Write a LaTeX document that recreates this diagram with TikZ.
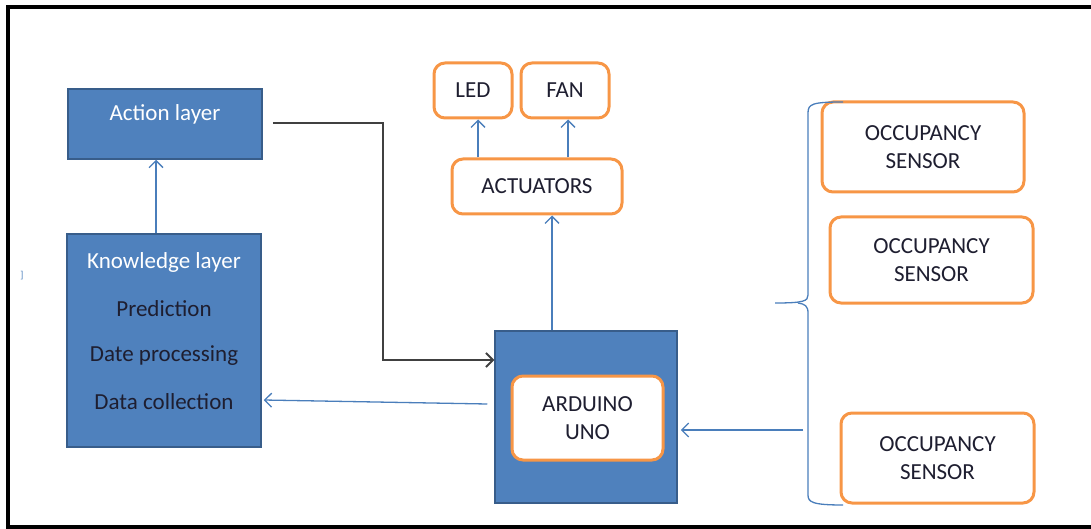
\documentclass[tikz,border=0pt]{standalone}
\usepackage{fontspec}
\setmainfont{Carlito}
\usetikzlibrary{arrows.meta}
\definecolor{boxblue}{HTML}{4F81BD}
\definecolor{boxedge}{HTML}{385D8A}
\definecolor{orng}{HTML}{F79646}
\definecolor{lineblue}{HTML}{4A7EBB}
\definecolor{txtdark}{HTML}{1E1E30}
\definecolor{darkline}{HTML}{404040}
\tikzset{
  bluebox/.style={draw=boxedge, line width=1.5pt, fill=boxblue, minimum width=#1, inner sep=0pt},
  orbox/.style={draw=orng, line width=3pt, fill=white, rounded corners=11pt, inner sep=0pt, align=center, text=txtdark, font=\fontsize{23}{28}\selectfont},
  barrow/.style={draw=lineblue, line width=1.3pt, -{Straight Barb[length=7pt,width=14pt,line width=1.3pt]}},
  karrow/.style={draw=darkline, line width=2pt, -{Straight Barb[length=7pt,width=14pt,line width=1.8pt]}},
  ltxt/.style={font=\fontsize{23}{26}\selectfont, inner sep=0pt}
}
\begin{document}
\begin{tikzpicture}[x=1pt,y=-1pt]
\useasboundingbox (0,0) rectangle (1091,529);
% frame
\draw[line width=3.5pt] (1100,7) -- (8,7) -- (8,527) -- (1100,527);
\node[text=lineblue, font=\fontsize{10}{10}\selectfont, inner sep=0pt] (mark) at (22,276) {]};
% left layers
\node[bluebox=194pt, minimum height=70pt] (act) at (165,124) {};
\node[ltxt, text=white] (actt) at (165,114) {Action layer};
\node[bluebox=194pt, minimum height=213pt] (know) at (164,340.5) {};
\node[ltxt, text=white] (k1) at (164,262) {Knowledge layer};
\node[ltxt, text=txtdark] (k2) at (164,309) {Prediction};
\node[ltxt, text=txtdark] (k3) at (164,356) {Date processing};
\node[ltxt, text=txtdark] (k4) at (164,402) {Data collection};
% arduino
\node[bluebox=182pt, minimum height=172pt] (ard) at (586,417) {};
\node[orbox, minimum width=151pt, minimum height=84pt] (uno) at (587.5,418) {ARDUINO\\UNO};
% actuators
\node[orbox, minimum width=170pt, minimum height=55pt] (actu) at (537,186.5) {ACTUATORS};
\node[orbox, minimum width=78pt, minimum height=55pt] (led) at (473,90.5) {LED};
\node[orbox, minimum width=88pt, minimum height=55pt] (fan) at (565,90.5) {FAN};
% sensors
\node[orbox, minimum width=202pt, minimum height=90pt] (s1) at (923,147) {OCCUPANCY\\SENSOR};
\node[orbox, minimum width=203pt, minimum height=86pt] (s2) at (931.5,260) {OCCUPANCY\\SENSOR};
\node[orbox, minimum width=193pt, minimum height=90pt] (s3) at (937.5,458) {OCCUPANCY\\SENSOR};
% brace
\draw[lineblue, line width=1.3pt] (843,102) .. controls (812,102) and (808,104) .. (808,113) -- (808,295) .. controls (808,301) and (804,303) .. (775,303);
\draw[lineblue, line width=1.3pt] (798,303) .. controls (805,304) and (808,306) .. (808,313) -- (808,495) .. controls (808,502) and (812,505) .. (843,505);
% connectors
\coordinate (ck) at (156,0);
\draw[barrow] (know.north -| ck) -- (act.south -| ck);
\coordinate (bend) at (383,360);
\draw[karrow] ([xshift=10pt,yshift=1pt]act.east) -| (bend) -- (ard.west |- bend);
\draw[barrow] ([xshift=-7pt,yshift=13pt]ard.west) -- ([xshift=2pt,yshift=-59.5pt]know.east);
\coordinate (ca) at (552,0);
\draw[barrow] (ard.north -| ca) -- (actu.south -| ca);
\coordinate (cl) at (478,0);
\coordinate (cf) at (568,0);
\draw[barrow] (actu.north -| cl) -- (led.south -| cl);
\draw[barrow] (actu.north -| cf) -- (fan.south -| cf);
\coordinate (sa) at (803,430);
\draw[barrow] (sa) -- ([xshift=3pt]ard.east |- sa);
\end{tikzpicture}
\end{document}
